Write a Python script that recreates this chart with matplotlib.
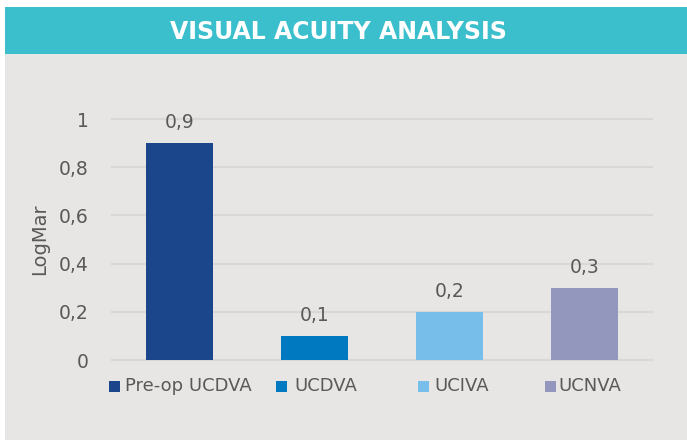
import matplotlib.pyplot as plt
from matplotlib.patches import Rectangle

categories = ['Pre-op UCDVA', 'UCDVA', 'UCIVA', 'UCNVA']
values = [0.9, 0.1, 0.2, 0.3]
bar_colors = ['#1b468b', '#0079c1', '#77bfea', '#9497bd']
yticks = [0, 0.2, 0.4, 0.6, 0.8, 1]
ytick_labels = ['0', '0,2', '0,4', '0,6', '0,8', '1']
title = 'VISUAL ACUITY ANALYSIS'

W, H = 687, 440
txt = '#595959'
plt.rcParams['font.family'] = ['DejaVu Sans']

fig = plt.figure(figsize=(W / 100, H / 100), dpi=100, facecolor='white')

# grey panel and teal header band
fig.patches.append(Rectangle((5 / W, 0), 1, 1 - 54 / H, transform=fig.transFigure,
                             facecolor='#e7e6e4', edgecolor='none', zorder=-2))
fig.patches.append(Rectangle((5 / W, 1 - 54 / H), 1, 47 / H, transform=fig.transFigure,
                             facecolor='#3cbfcc', edgecolor='none', zorder=-2))
fig.text(338 / W, 1 - 32 / H, title, color='white', fontsize=17, fontweight='bold',
         ha='center', va='center')

ax = fig.add_axes([112 / W, 80 / H, 540 / W, 241 / H])
ax.set_facecolor('none')
x = range(len(categories))
bars = ax.bar(x, values, width=0.5, color=bar_colors, zorder=3)
for b, v in zip(bars, values):
    ax.annotate(str(v).replace('.', ','), (b.get_x() + b.get_width() / 2, v),
                xytext=(0, 8), textcoords='offset points', ha='center', va='bottom',
                fontsize=13.5, color=txt, annotation_clip=False)

ax.set_xlim(-0.5, len(categories) - 0.5)
ax.set_ylim(0, 1)
ax.set_yticks(yticks)
ax.set_yticklabels(ytick_labels)
ax.set_xticks([])
ax.tick_params(axis='y', length=0, pad=17, labelsize=13.5, labelcolor=txt)
ax.grid(axis='y', color='#d9d8d6', linewidth=1.6, zorder=0)
for g in ax.get_ygridlines():
    g.set_clip_on(False)
for s in ax.spines.values():
    s.set_visible(False)
ax.set_ylabel('LogMar', fontsize=14, color=txt, labelpad=7)

# legend laid out like the original
marker_x = [109, 276, 418, 545]
text_x = [125, 294, 434, 558]
ly = 386
for c, col, mx, tx in zip(categories, bar_colors, marker_x, text_x):
    fig.patches.append(Rectangle((mx / W, 1 - (ly + 5.5) / H), 11 / W, 11 / H,
                                 transform=fig.transFigure, facecolor=col, edgecolor='none'))
    fig.text(tx / W, 1 - ly / H, c, fontsize=13, color=txt, ha='left', va='center')

fig.savefig('out.png', dpi=100, facecolor='white')
